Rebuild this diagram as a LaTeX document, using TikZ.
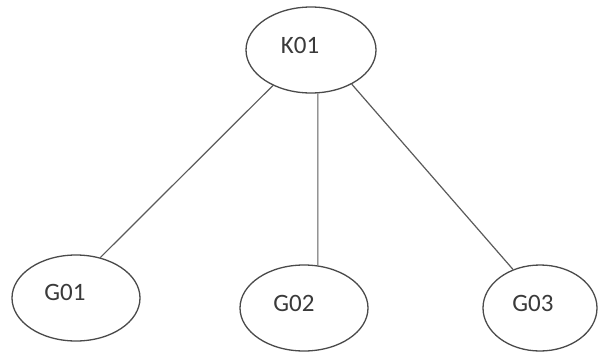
\documentclass[tikz,border=0pt]{standalone}
\usepackage{fontspec}
\setmainfont{Carlito}
\usetikzlibrary{shapes.geometric}
\definecolor{edgegray}{HTML}{5A5A5A}
\definecolor{rimgray}{HTML}{4A4A4A}
\definecolor{txtgray}{HTML}{3A3A3A}
\tikzset{
  oval/.style={ellipse, draw=rimgray, line width=1.3pt, inner sep=0pt, minimum height=86pt},
  lbl/.style={text=txtgray, inner sep=0pt, font=\fontsize{25}{30}\selectfont},
  link/.style={draw=edgegray, line width=1.2pt}
}
\begin{document}
\begin{tikzpicture}[x=1pt,y=-1pt]
  \useasboundingbox (0,0) rectangle (599,356);
  % tree nodes
  \node[oval, minimum width=130pt] (K01) at (311,50) {};
  \node[oval, minimum width=128pt] (G01) at (76,298) {};
  \node[oval, minimum width=128pt] (G02) at (304,308) {};
  \node[oval, minimum width=114pt] (G03) at (540,308) {};
  % labels, set slightly left of centre
  \node[lbl] (tK01) at (300,45) {K01};
  \node[lbl] (tG01) at (65,292) {G01};
  \node[lbl] (tG02) at (294,303) {G02};
  \node[lbl] (tG03) at (533,303) {G03};
  % connectors
  \draw[link] (K01.-137) -- (G01.59);
  \draw[link] (K01.-81) -- (G02.72);
  \draw[link] (K01.-40) -- (G03.125);
\end{tikzpicture}
\end{document}
